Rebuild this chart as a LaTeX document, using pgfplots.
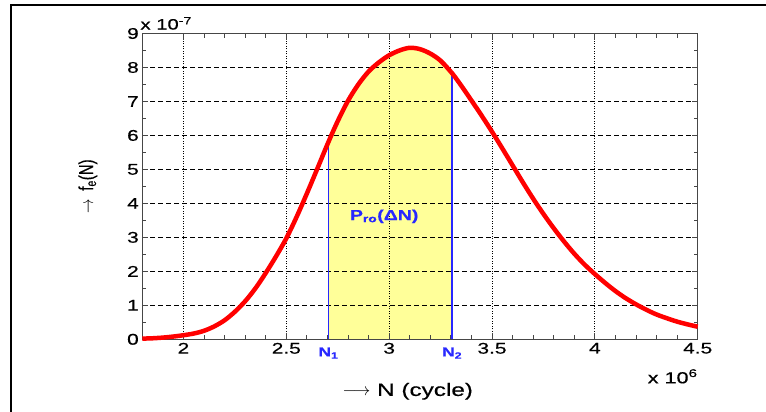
\documentclass[border=0pt]{standalone}
\usepackage{fontspec}
\setmainfont{Liberation Sans}[FakeStretch=1.35, FakeBold=0.4]
\newfontfamily\ylabfont{Liberation Sans}[FakeBold=0.4]
\usepackage{pgfplots}
\pgfplotsset{compat=1.18}
\usepackage{pgfplotstable}

\definecolor{curvered}{RGB}{255,0,0}
\definecolor{areayellow}{RGB}{255,255,153}
\definecolor{nblue}{RGB}{40,40,255}
\definecolor{axgray}{RGB}{70,70,70}

% N in units of 1e6 cycles, f_e in units of 1e-7
\pgfplotstableread{
N     fe
1.80  0.02
1.85  0.03
1.90  0.05
1.95  0.08
2.00  0.12
2.05  0.17
2.10  0.25
2.15  0.38
2.20  0.56
2.25  0.81
2.30  1.12
2.35  1.50
2.40  1.95
2.45  2.44
2.50  2.97
2.55  3.60
2.60  4.29
2.65  5.01
2.705 5.81
2.75  6.42
2.80  7.02
2.85  7.50
2.90  7.88
2.95  8.15
3.00  8.36
3.05  8.50
3.10  8.58
3.15  8.54
3.20  8.41
3.25  8.20
3.306 7.83
3.35  7.47
3.40  7.03
3.45  6.58
3.50  6.11
3.55  5.62
3.60  5.12
3.65  4.62
3.70  4.14
3.75  3.69
3.80  3.27
3.85  2.88
3.90  2.52
3.95  2.20
4.00  1.92
4.05  1.66
4.10  1.42
4.15  1.21
4.20  1.03
4.25  0.87
4.30  0.73
4.35  0.62
4.40  0.52
4.45  0.44
4.50  0.37
}\pdf

\begin{document}
\begin{tikzpicture}
\begin{axis}[
    scale only axis,
    width=555.4pt, height=305.8pt,
    set layers,
    clip=false,
    xmin=1.8, xmax=4.5, ymin=0, ymax=9,
    xtick={2,2.5,3,3.5,4,4.5},
    ytick={0,1,...,9},
    minor x tick num=4, minor y tick num=1,
    tick align=inside,
    major tick length=6pt, minor tick length=4pt,
    scaled ticks=false,
    /pgf/number format/assume math mode=true,
    ticklabel style={font=\fontsize{15.5}{17}\selectfont},
    grid=major,
    x grid style={black, line width=0.7pt, dash pattern=on 1pt off 1.5pt},
    y grid style={black, line width=0.7pt, dash pattern=on 5pt off 3pt},
    axis line style={axgray, line width=1pt},
    every tick/.style={axgray, line width=0.8pt},
    xlabel={$\longrightarrow$\ N (cycle)},
    xlabel style={at={(axis description cs:0.478,-0.17)}, anchor=center,
        font=\fontsize{18}{20}\selectfont},
    ylabel={$\rightarrow$\ \ f\textsubscript{e}(N)},
    ylabel style={at={(axis description cs:-0.098,0.5)}, anchor=center,
        font=\ylabfont\fontsize{15}{18}\selectfont, yscale=1.35},
]
\addplot[draw=none, fill=areayellow, on layer=axis background,
    restrict x to domain=2.704:3.307] table[x=N, y=fe] {\pdf} \closedcycle;
\addplot[nblue, line width=1.2pt] coordinates {(2.705,0) (2.705,5.81)};
\addplot[nblue, line width=1.2pt] coordinates {(3.306,0) (3.306,7.83)};
\addplot[curvered, line width=4.5pt, smooth] table[x=N, y=fe] {\pdf};

\node[nblue, font=\bfseries\fontsize{14.5}{16}\selectfont, anchor=base]
    at (axis cs:2.976,3.51) {P\textsubscript{ro}(ΔN)};
\node[nblue, font=\bfseries\fontsize{13}{15}\selectfont, anchor=north, inner sep=0pt]
    at (axis cs:2.705,0) [yshift=-8pt] {N\textsubscript{1}};
\node[nblue, font=\bfseries\fontsize{13}{15}\selectfont, anchor=north, inner sep=0pt]
    at (axis cs:3.306,0) [yshift=-8pt] {N\textsubscript{2}};
\node[anchor=base west, inner sep=0pt, font=\fontsize{15}{17}\selectfont]
    at (rel axis cs:0,1) [xshift=-2pt, yshift=4pt] {x 10\textsuperscript{-7}};
\node[anchor=base east, inner sep=0pt, font=\fontsize{16}{18}\selectfont]
    at (rel axis cs:1,0) [yshift=-44pt] {x 10\textsuperscript{6}};
\end{axis}
\draw[line width=2pt] (-131.3pt,-80pt) -- (-131.3pt,334.6pt) -- (640pt,334.6pt);
\pgfresetboundingbox
\path[use as bounding box] (-142.3pt,-72.7pt) rectangle (623.7pt,339.3pt);
\end{tikzpicture}
\end{document}
